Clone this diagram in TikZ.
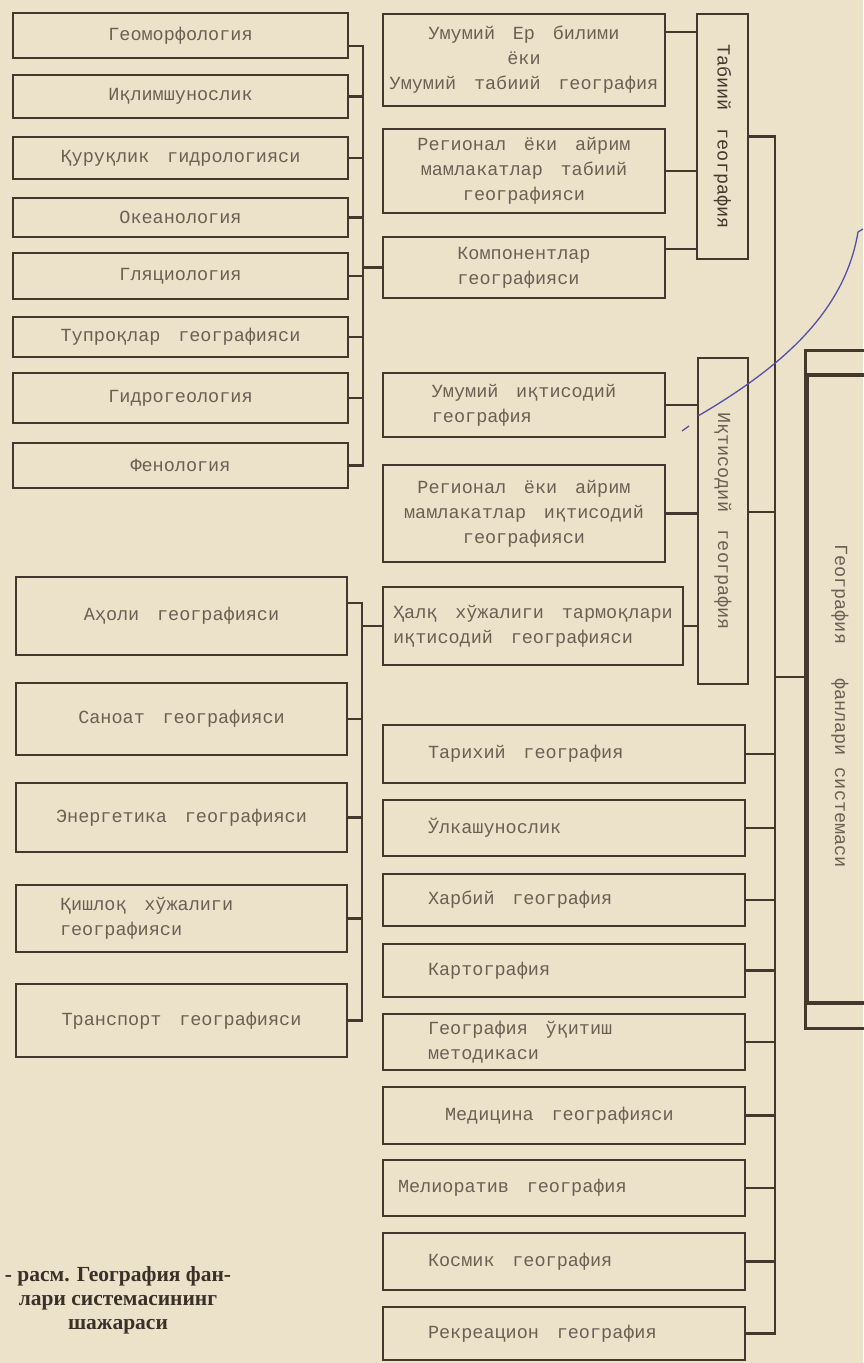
\documentclass[tikz,border=0pt]{standalone}
\usepackage{fontspec}
\usepackage{graphicx}
\newfontfamily\typefont[WordSpace={1.6,0,0}]{Liberation Mono}
\newfontfamily\capfont{Liberation Serif}
\newcommand{\boxfont}{\typefont\fontsize{18.5}{25}\selectfont}
\definecolor{paper}{RGB}{236,226,201}
\definecolor{ink}{RGB}{68,56,46}
\definecolor{typeink}{RGB}{108,96,84}
\definecolor{capink}{RGB}{58,48,40}
\definecolor{penblue}{RGB}{84,80,168}

\begin{document}
\begin{tikzpicture}[x=1pt,y=-1pt,
    box/.style={draw=ink, line width=2.6pt, text=typeink, font=\boxfont, align=center, inner sep=2pt},
    lowbox/.style={box, text width=272pt, inner xsep=45pt, align=flush left},
    link/.style={draw=ink, line width=2.4pt},
    penline/.style={draw=penblue, line width=1.3pt}]
        \useasboundingbox (0,0) rectangle (863,1363);
        \fill[paper] (0,0) rectangle (863,1363);

        % Left column, top
        \node[box, minimum width=335pt, minimum height=45pt] (geomorf) at (180.5,35.5) {Геоморфология};
        \node[box, minimum width=335pt, minimum height=43pt] (iklim) at (180.5,96.5) {Иқлимшунослик};
        \node[box, minimum width=335pt, minimum height=42pt] (quruq) at (180.5,158) {Қуруқлик гидрологияси};
        \node[box, minimum width=335pt, minimum height=39pt] (okean) at (180.5,217.5) {Океанология};
        \node[box, minimum width=335pt, minimum height=46pt] (glyats) at (180.5,276) {Гляциология};
        \node[box, minimum width=335pt, minimum height=40pt] (tuproq) at (180.5,337) {Тупроқлар географияси};
        \node[box, minimum width=335pt, minimum height=50pt] (gidrog) at (180.5,398) {Гидрогеология};
        \node[box, minimum width=335pt, minimum height=45pt] (fenol) at (180.5,465.5) {Фенология};

        % Left column, bottom
        \node[box, minimum width=331pt, minimum height=78pt] (aholi) at (181.5,616) {Аҳоли географияси};
        \node[box, minimum width=331pt, minimum height=72pt] (sanoat) at (181.5,719) {Саноат географияси};
        \node[box, minimum width=331pt, minimum height=69pt] (energ) at (181.5,817.5) {Энергетика географияси};
        \node[box, text width=243pt, inner xsep=44pt, align=flush left, minimum height=67pt] (qishloq) at (181.5,918.5) {Қишлоқ хўжалиги\\географияси};
        \node[box, minimum width=331pt, minimum height=73pt] (transp) at (181.5,1020.5) {Транспорт географияси};

        % Natural geography
        \node[box, minimum width=282pt, minimum height=92pt] (umer) at (524,60) {Умумий Ер билими\\ёки\\Умумий табиий география};
        \node[box, minimum width=282pt, minimum height=84pt] (regtab) at (524,171) {Регионал ёки айрим\\мамлакатлар табиий\\географияси};
        \node[box, minimum width=282pt, minimum height=61pt, align=left] (kompon) at (524,267.5) {Компонентлар\\географияси};
        \node[box, text=ink, minimum width=51pt, minimum height=245pt] (tabiiy) at (722.5,136.5) {\rotatebox{-90}{Табиий география}};

        % Economic geography
        \node[box, minimum width=282pt, minimum height=64pt, align=left] (umikt) at (524,405) {Умумий иқтисодий\\география};
        \node[box, minimum width=282pt, minimum height=97pt] (regikt) at (524,513.5) {Регионал ёки айрим\\мамлакатлар иқтисодий\\географияси};
        \node[box, minimum width=300pt, minimum height=78pt, align=left] (halq) at (533,626) {Ҳалқ хўжалиги тармоқлари\\иқтисодий географияси};
        \node[box, minimum width=50pt, minimum height=326pt] (ikt) at (723,521) {\rotatebox{-90}{Иқтисодий география}};

        % Other branches
        \node[lowbox, minimum height=58pt] (tarih) at (564,754) {Тарихий география};
        \node[lowbox, minimum height=56pt] (ulka) at (564,828) {Ўлкашунослик};
        \node[lowbox, minimum height=52pt] (harb) at (564,900) {Харбий география};
        \node[lowbox, minimum height=53pt] (karto) at (564,970.5) {Картография};
        \node[lowbox, minimum height=56pt] (metod) at (564,1042) {География ўқитиш\\методикаси};
        \node[lowbox, text width=238pt, inner xsep=62pt, minimum height=57pt] (medits) at (564,1115.5) {Медицина географияси};
        \node[lowbox, text width=332pt, inner xsep=15pt, minimum height=56pt] (melior) at (564,1188) {Мелиоратив география};
        \node[lowbox, minimum height=57pt] (kosmik) at (564,1261.5) {Космик география};
        \node[lowbox, minimum height=53pt] (rekr) at (564,1333.5) {Рекреацион география};

        % Whole system
        \node[box, line width=3.2pt, minimum width=66pt, minimum height=628pt] (sys) at (840,689) {\rotatebox{-90}{\hspace*{34pt}География\hspace{34pt}фанлари\hspace{12pt}системаси}};
        \draw[link, line width=2.6pt] ([yshift=23pt]sys.north west) rectangle ([yshift=-24pt]sys.south east);

        % Bus lines
        \coordinate (lbus) at (363,0);
        \coordinate (lbusb) at (362,0);
        \coordinate (mbus) at (775,0);

        % Left groups
        \draw[link] ([yshift=-10.5pt]geomorf.east) -| (lbus |- fenol.east) -- (fenol.east);
        \foreach \n in {iklim,quruq,okean,glyats,tuproq,gidrog}
            \draw[link] (\n.east) -- (\n.east -| lbus);
        \draw[link] (lbus |- kompon.west) -- (kompon.west);

        \draw[link] ([yshift=13pt]aholi.east) -| (lbusb |- transp.east) -- (transp.east);
        \foreach \n in {sanoat,energ,qishloq}
            \draw[link] (\n.east) -- (\n.east -| lbusb);
        \draw[link] (lbusb |- halq.west) -- (halq.west);

        % To the vertical boxes
        \draw[link] ([yshift=28pt]umer.east) -- ([yshift=28pt]umer.east -| tabiiy.west);
        \draw[link] (regtab.east) -- (regtab.east -| tabiiy.west);
        \draw[link] ([yshift=18.5pt]kompon.east) -- ([yshift=18.5pt]kompon.east -| tabiiy.west);
        \foreach \n in {umikt,regikt,halq}
            \draw[link] (\n.east) -- (\n.east -| ikt.west);

        % Main bus
        \draw[link] (tabiiy.east) -| (mbus |- rekr.east) -- (rekr.east);
        \draw[link] ([yshift=9pt]ikt.east) -- ([yshift=9pt]ikt.east -| mbus);
        \foreach \n in {tarih,ulka,harb,karto,metod,medits,melior,kosmik}
            \draw[link] (\n.east) -- (\n.east -| mbus);
        \draw[link] ([yshift=12pt]sys.west -| mbus) -- ([yshift=12pt]sys.west);

        % Caption
        \node[font=\capfont\bfseries\fontsize{21.5}{24}\selectfont, text=capink, align=center] (caption) at (118,1300) {- расм. География фан-\\лари системасининг\\шажараси};

        % Pen stroke
        \draw[penline] (698,416) .. controls (785,365) and (845,310) .. (858,232) -- (863,229);
        \draw[penline] (682,431) -- (689,426);
    \end{tikzpicture}
\end{document}
